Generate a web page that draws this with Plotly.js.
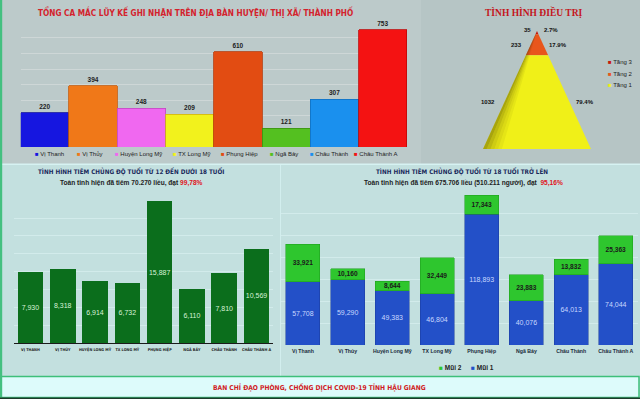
<!DOCTYPE html>
<html><head><meta charset="utf-8">
<script src="https://cdn.plot.ly/plotly-3.0.1.min.js"></script>
<style>html,body{margin:0;padding:0;background:#c4e0e0;}#chart{width:640px;height:399px;}</style>
</head><body><div id="chart"></div>
<script>
// ---------- DATA ----------
const districts = ["Vị Thanh","Vị Thủy","Huyện Long Mỹ","TX Long Mỹ","Phụng Hiệp","Ngã Bảy","Châu Thành","Châu Thành A"];
const districtsUpper = ["VỊ THANH","VỊ THỦY","HUYỆN LONG MỸ","TX LONG MỸ","PHỤNG HIỆP","NGÃ BẢY","CHÂU THÀNH","CHÂU THÀNH A"];
const casesTotal = [220,394,248,209,610,121,307,753];
const treatTiers = ["Tầng 3","Tầng 2","Tầng 1"];
const treatValues = [35,233,1032];
const teenDoses = [7930,8318,6914,6732,15887,6110,7810,10569];
const adultDose1 = [57708,59290,49383,46804,118893,40076,64013,74044];
const adultDose2 = [33921,10160,8644,32449,17343,23883,13832,25363];
const doseNames = ["Mũi 1","Mũi 2"];

// ---------- STYLE ----------
const W=640,H=399;
const X=p=>p/W, Y=p=>1-p/H;
const caseColors=["#1616e0","#f07818","#f068f0","#f2f21c","#e24c12","#54c020","#1a90ee","#f41212"];
const caseLines=["#0c0ca0","#c85a08","#c048c0","#d0b010","#b83808","#3a9010","#1070c0","#c00808"];
const tierColors=["#c8180c","#e8561c","#f0f018"];
const NARROW='"Liberation Sans Narrow","DejaVu Sans Condensed","Arial Narrow",sans-serif';
const SANS='"Liberation Sans",Arial,sans-serif';
const SERIF='"Liberation Serif","DejaVu Serif",serif';

const traces=[];
// top-left: cumulative cases
traces.push({type:'bar',x:districts,y:casesTotal,xaxis:'x',yaxis:'y',width:1,
  marker:{color:caseColors,line:{color:caseLines,width:0.8}},
  text:casesTotal.map(String),textposition:'outside',cliponaxis:false,textangle:0,
  textfont:{family:SANS,size:6.5,color:'#222',weight:'bold'},hoverinfo:'x+y',showlegend:false});

// pyramid
const tot=treatValues.reduce((a,b)=>a+b,0);
let cum=[0];treatValues.forEach(v=>cum.push(cum[cum.length-1]+v/tot));
treatValues.forEach((v,i)=>{
  const a=cum[i],b=cum[i+1];
  traces.push({type:'scatter',mode:'lines',xaxis:'x2',yaxis:'y2',fill:'toself',
    x:[-0.5*a,0.5*a,0.5*b,-0.5*b,-0.5*a],y:[1-a,1-a,1-b,1-b,1-a],
    fillcolor:tierColors[i],line:{width:0,color:tierColors[i]},name:treatTiers[i],showlegend:false,hoverinfo:'name'});
});
// shading overlays on left side of pyramid (3D look)
const shade=[0.42,0.30,0.20,0.12,0.06];
shade.forEach((op,k)=>{
  const x0=-0.5+k*0.035,x1=-0.5+(k+1)*0.035;
  traces.push({type:'scatter',mode:'lines',xaxis:'x2',yaxis:'y2',fill:'toself',
    x:[0,x0,x1,0],y:[1,0,0,1],fillcolor:'rgba(70,60,0,'+op+')',line:{width:0},showlegend:false,hoverinfo:'skip'});
});

// bottom-left: 12-17
traces.push({type:'bar',x:districtsUpper,y:teenDoses,xaxis:'x3',yaxis:'y3',width:0.79,
  marker:{color:'#0b6e1c'},texttemplate:'%{y:,}',textposition:'inside',insidetextanchor:'middle',constraintext:'none',textangle:0,
  textfont:{family:SANS,size:7,color:'#d8f2d8'},showlegend:false});

// bottom-right: 18+
traces.push({type:'bar',name:doseNames[0],x:districts,y:adultDose1,xaxis:'x4',yaxis:'y4',width:0.76,
  marker:{color:'#2350c8',line:{color:'#1a3a9a',width:0.5}},texttemplate:'%{y:,}',textposition:'inside',insidetextanchor:'middle',constraintext:'none',textangle:0,
  textfont:{family:SANS,size:7,color:'#c8d8ff'},showlegend:false});
traces.push({type:'bar',name:doseNames[1],x:districts,y:adultDose2,xaxis:'x4',yaxis:'y4',width:0.76,
  marker:{color:'#2ec62e',line:{color:'#1c9a1c',width:0.5}},texttemplate:'%{y:,}',textposition:'inside',insidetextanchor:'middle',constraintext:'none',textangle:0,
  textfont:{family:SANS,size:6.6,color:'#1a1a1a',weight:'bold'},showlegend:false});

// ---------- SHAPES ----------
const rect=(x0,y0,x1,y1,fill,line,lw)=>({type:'rect',xref:'paper',yref:'paper',x0:X(x0),x1:X(x1),y0:Y(y1),y1:Y(y0),
  fillcolor:fill,line:{color:line||fill,width:lw||0},layer:'below'});
const shapes=[
  rect(0,0,421,164,'#bccaca'),
  rect(421,0,640,164,'#b6c5c5'),
  rect(0,164,640,376,'#c3e0df'),
  rect(0,163.5,640,165,'#d6f2f2'),
  rect(280,165,281,376,'#d2eeee'),
  rect(1,376.5,639,397.5,'#ddfbfb','#3dbf7a',1.5),
  rect(0,0,2.2,399,'#44c080'),
  rect(0,397.5,640,399,'#1c3a2a'),
];

// ---------- ANNOTATIONS ----------
const ann=[];
const txt=(x,y,t,o)=>ann.push(Object.assign({xref:'paper',yref:'paper',x:X(x),y:Y(y),text:t,showarrow:false,xanchor:'center',yanchor:'middle'},o||{}));
txt(195,11.5,'<b>TỔNG CA MẮC LŨY KẾ GHI NHẬN TRÊN ĐỊA BÀN HUYỆN/ THỊ XÃ/ THÀNH PHỐ</b>',{font:{family:NARROW,size:8.2,color:'#d4222c'}});
txt(534,12.5,'<b>TÌNH HÌNH ĐIỀU TRỊ</b>',{font:{family:SERIF,size:9.5,color:'#c4161c'}});
txt(131,171.5,'<b>TÌNH HÌNH TIÊM CHỦNG ĐỘ TUỔI TỪ 12 ĐẾN DƯỚI 18 TUỔI</b>',{font:{family:NARROW,size:6.3,color:'#1a2a5c'}});
txt(131,182.5,'<b>Toàn tỉnh hiện đã tiêm 70.270 liều, đạt <span style="color:#e0141c">99,78%</span></b>',{font:{family:SANS,size:6.6,color:'#222'}});
txt(462,171.5,'<b>TÌNH HÌNH TIÊM CHỦNG ĐỘ TUỔI TỪ 18 TUỔI TRỞ LÊN</b>',{font:{family:NARROW,size:6.3,color:'#1a2a5c'}});
txt(463,182.5,'<b>Toàn tỉnh hiện đã tiêm 675.706 liều (510.211 người), đạt  <span style="color:#e0141c">95,16%</span></b>',{font:{family:SANS,size:6.6,color:'#222'}});
txt(319,387,'<b>BAN CHỈ ĐẠO PHÒNG, CHỐNG DỊCH COVID-19 TỈNH HẬU GIANG</b>',{font:{family:NARROW,size:6.7,color:'#d01c24'}});

// top-left legend
const legX=[33,75,113,171,219,268,308,352];
districts.forEach((d,i)=>txt(legX[i],153.5,'<span style="color:'+caseColors[i]+'">■</span> '+d,{xanchor:'left',font:{family:SANS,size:6,color:'#222'}}));
// pyramid legend
const pyrLegY=[62,73.5,85];
treatTiers.forEach((t,i)=>txt(606,pyrLegY[i],'<span style="color:'+tierColors[i]+'">■</span> '+t,{xanchor:'left',font:{family:SANS,size:6,color:'#222'}}));
// bottom-right legend
txt(437,367.7,'<span style="color:#2ec62e">■</span> <b>'+doseNames[1]+'</b>',{xanchor:'left',font:{family:SANS,size:6.5,color:'#222'}});
txt(469,367.7,'<span style="color:#2350c8">■</span> <b>'+doseNames[0]+'</b>',{xanchor:'left',font:{family:SANS,size:6.5,color:'#222'}});

// pyramid labels
treatValues.forEach((v,i)=>{
  const mid=(cum[i]+cum[i+1])/2, hw=0.5*mid, yy=1-mid;
  const pct=(v/tot*100).toFixed(1)+'%';
  const f={family:SANS,size:6,color:'#111'};
  ann.push({xref:'x2',yref:'y2',x:-hw,y:yy,text:'<b>'+v+'</b>',showarrow:false,xanchor:'right',xshift:i===0?-3:-7,yshift:i===0?3:0,font:f});
  ann.push({xref:'x2',yref:'y2',x:hw,y:yy,text:'<b>'+pct+'</b>',showarrow:false,xanchor:'left',xshift:4,yshift:i===0?3:0,font:f});
});

const hidden={showgrid:false,zeroline:false,showticklabels:false,showline:false,ticks:''};
const layout={
  width:W,height:H,margin:{l:0,r:0,t:0,b:0},paper_bgcolor:'#c4e0e0',plot_bgcolor:'rgba(0,0,0,0)',
  barmode:'stack',showlegend:false,
  xaxis:Object.assign({},hidden,{anchor:'y',domain:[X(20.7),X(407)],type:'category',range:[-0.5,7.5]}),
  yaxis:{anchor:'x',domain:[Y(147),Y(22.3)],range:[0,800],dtick:100,showgrid:true,gridcolor:'#d2dada',gridwidth:0.8,zeroline:false,showticklabels:false,ticks:''},
  xaxis2:Object.assign({},hidden,{anchor:'y2',domain:[X(483),X(591)],range:[-0.5,0.5]}),
  yaxis2:Object.assign({},hidden,{anchor:'x2',domain:[Y(149),Y(31)],range:[0,1]}),
  xaxis3:{anchor:'y3',domain:[X(14.3),X(272.7)],type:'category',range:[-0.5,7.5],showgrid:false,zeroline:false,showline:true,linecolor:'#1a1a1a',linewidth:1,ticks:'',tickangle:0,
    tickfont:{family:NARROW,size:3.8,color:'#222',weight:'bold'},ticklabelstandoff:2},
  yaxis3:{anchor:'x3',domain:[Y(343),Y(200.3)],range:[0,16000],dtick:2000,showgrid:true,gridcolor:'#d6eeee',gridwidth:0.8,zeroline:false,showticklabels:false,ticks:''},
  xaxis4:{anchor:'y4',domain:[X(280.6),X(638.2)],type:'category',range:[-0.5,7.5],showgrid:false,zeroline:false,showline:false,ticks:'',tickangle:0,
    tickfont:{family:SANS,size:5.2,color:'#1a2a3a',weight:'bold'},ticklabelstandoff:2},
  yaxis4:{anchor:'x4',domain:[Y(345),Y(191)],range:[0,140000],dtick:20000,showgrid:true,gridcolor:'#d6eeee',gridwidth:0.8,zeroline:false,showticklabels:false,ticks:''},
  shapes:shapes,annotations:ann,
};
Plotly.newPlot('chart',traces,layout,{displayModeBar:false,staticPlot:true});
</script></body></html>
